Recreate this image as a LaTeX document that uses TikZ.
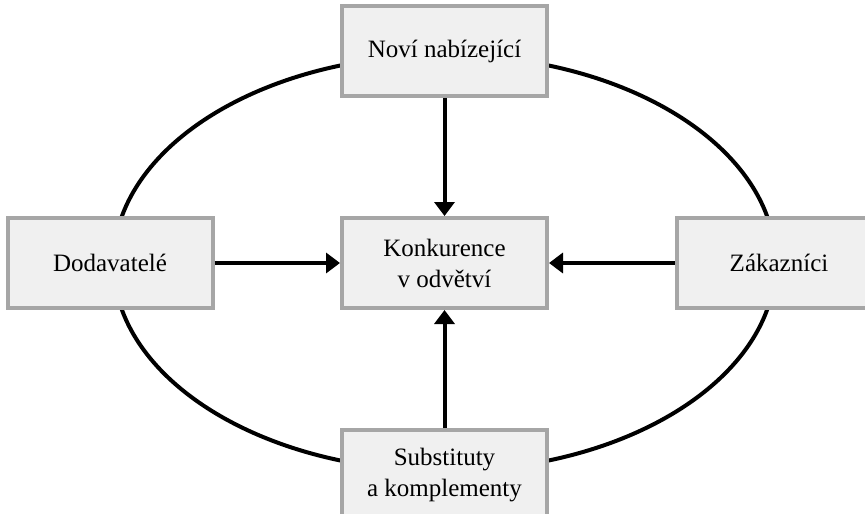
\documentclass[tikz,border=0pt]{standalone}
\usepackage{fontspec}
\setmainfont{Liberation Serif}
\usepackage{xcolor}
\usepackage{tikz}
\usetikzlibrary{positioning,arrows.meta}

\definecolor{boxfill}{HTML}{F0F0F0}
\definecolor{boxline}{HTML}{A6A6A6}

\begin{document}
\begin{tikzpicture}[
    x=0.5pt, y=-0.5pt,
    node distance=59pt and 62.75pt,
    force/.style={draw=boxline, fill=boxfill, line width=2pt, align=center,
      minimum width=102.5pt, minimum height=45pt, inner sep=0pt,
      font=\fontsize{12.5}{15.5}\selectfont},
    arrow/.style={-{Triangle[length=7pt,width=10pt]}, line width=2pt},
    ring/.style={line width=2pt}
  ]
    \useasboundingbox (0,0) rectangle (865,513);
    \clip (0,0) rectangle (865,513);
    \coordinate (mid) at (444.5,263);
    \draw[ring] (mid) ellipse [x radius=165.5pt, y radius=104pt];
    \node[force] (rivalry) at (mid) {Konkurence\\v odvětví};
    \node[force, above=of rivalry] (entrants) {Noví nabízející};
    \node[force, below=of rivalry] (substitutes) {Substituty\\a komplementy};
    \node[force, left=of rivalry] (suppliers) {Dodavatelé};
    \node[force, right=of rivalry] (buyers) {Zákazníci};
    \draw[arrow] (entrants) -- (rivalry);
    \draw[arrow] (substitutes) -- (rivalry);
    \draw[arrow] (suppliers) -- (rivalry);
    \draw[arrow] (buyers) -- (rivalry);
  \end{tikzpicture}
\end{document}
